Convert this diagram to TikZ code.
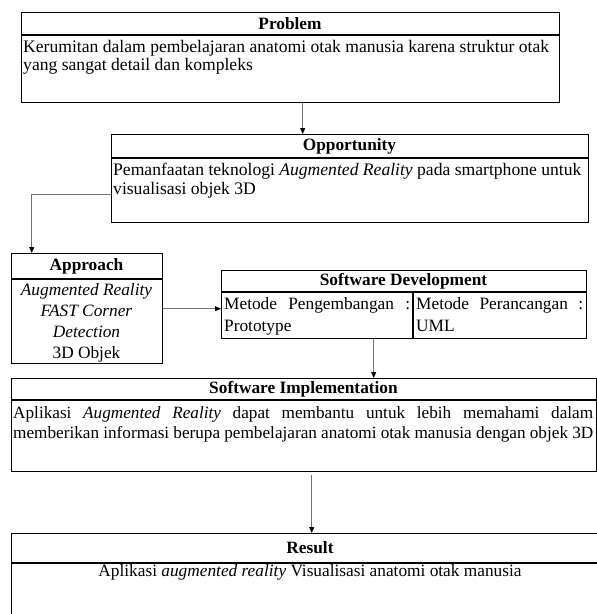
\documentclass[tikz,border=0pt]{standalone}
\usepackage{fontspec}
\setmainfont{Liberation Serif}
\usetikzlibrary{arrows.meta}
\begin{document}
\begin{tikzpicture}[x=1pt,y=-1pt,
  box/.style={draw=black, line width=1.4pt, inner sep=0pt, anchor=north west},
  divider/.style={draw=black, line width=1.4pt},
  conn/.style={draw=black!55, line width=0.8pt, -{Triangle[length=6pt,width=5pt,color=black]}},
  hdr/.style={font=\fontsize{17.3}{18.5}\selectfont\bfseries, inner sep=0pt},
  body/.style={font=\fontsize{17.3}{18.5}\selectfont, inner sep=0pt, anchor=north west}]
\useasboundingbox (0,0) rectangle (597,614);
\clip (0,0) rectangle (597,614);

% Problem
\node[box, minimum width=538pt, minimum height=90pt] (prob) at (21,12) {};
\draw[divider] (21,35) -- (559,35);
\node[hdr] (probH) at (290,23.5) {Problem};
\node[body, align=left, font=\fontsize{17.6}{18.5}\selectfont] (probT) at (23,40) {Kerumitan dalam pembelajaran anatomi otak manusia karena struktur otak\\yang sangat detail dan kompleks};

% Opportunity
\node[box, minimum width=477pt, minimum height=88pt] (opp) at (111,134) {};
\draw[divider] (111,158) -- (588,158);
\node[hdr] (oppH) at (349.5,146) {Opportunity};
\node[body, align=left, font=\fontsize{17.6}{18.5}\selectfont] (oppT) at (113,163) {Pemanfaatan teknologi \textit{Augmented Reality} pada smartphone untuk\\visualisasi objek 3D};

% Approach
\node[box, minimum width=151pt, minimum height=110pt] (appr) at (11,253) {};
\draw[divider] (11,279) -- (162,279);
\node[hdr] (apprH) at (86.5,266) {Approach};
\node[body, anchor=north, align=center, font=\fontsize{17.3}{21}\selectfont] (apprT) at (86.5,283) {\textit{Augmented Reality}\\\textit{FAST Corner}\\\textit{Detection}\\3D Objek};

% Software Development
\node[box, minimum width=365pt, minimum height=68pt] (sd) at (221,270) {};
\draw[divider] (221,292) -- (586,292);
\draw[divider] (413,292) -- (413,338);
\node[hdr] (sdH) at (403.5,281) {Software Development};
\node[body, text width=186pt, align=justify, font=\fontsize{17.3}{22}\selectfont] (sdT1) at (224,297) {Metode Pengembangan :\linebreak Prototype};
\node[body, text width=167pt, align=justify, font=\fontsize{17.3}{22}\selectfont] (sdT2) at (416,297) {Metode Perancangan :\linebreak UML};

% Software Implementation
\node[box, minimum width=585pt, minimum height=93pt] (si) at (11,378) {};
\draw[divider] (11,400) -- (596,400);
\node[hdr] (siH) at (303.5,389) {Software Implementation};
\node[body, text width=580pt, align=justify, font=\fontsize{17.2}{20}\selectfont] (siT) at (13,406) {Aplikasi \textit{Augmented Reality} dapat membantu untuk lebih memahami dalam\linebreak memberikan informasi berupa pembelajaran anatomi otak manusia dengan objek 3D};

% Result
\node[box, minimum width=598pt, minimum height=110pt] (res) at (11,533) {};
\draw[divider] (11,563) -- (609,563);
\node[hdr] (resH) at (310,548) {Result};
\node[body, anchor=center] (resT) at (310,572) {Aplikasi \textit{augmented reality} Visualisasi anatomi otak manusia};

% Connectors
\draw[conn] ([xshift=12pt]prob.south) -- ([xshift=12pt]prob.south |- opp.north);
\draw[conn] ([yshift=-16pt]opp.west) -| ([xshift=-55.5pt]appr.north);
\draw[conn] (appr.east) -- (appr.east -| sd.west);
\draw[conn] ([xshift=-30.5pt]sd.south) -- ([xshift=-30.5pt]sd.south |- si.north);
\draw[conn, shorten <=3pt] ([xshift=7.5pt]si.south) -- ([xshift=7.5pt]si.south |- res.north);
\end{tikzpicture}
\end{document}
